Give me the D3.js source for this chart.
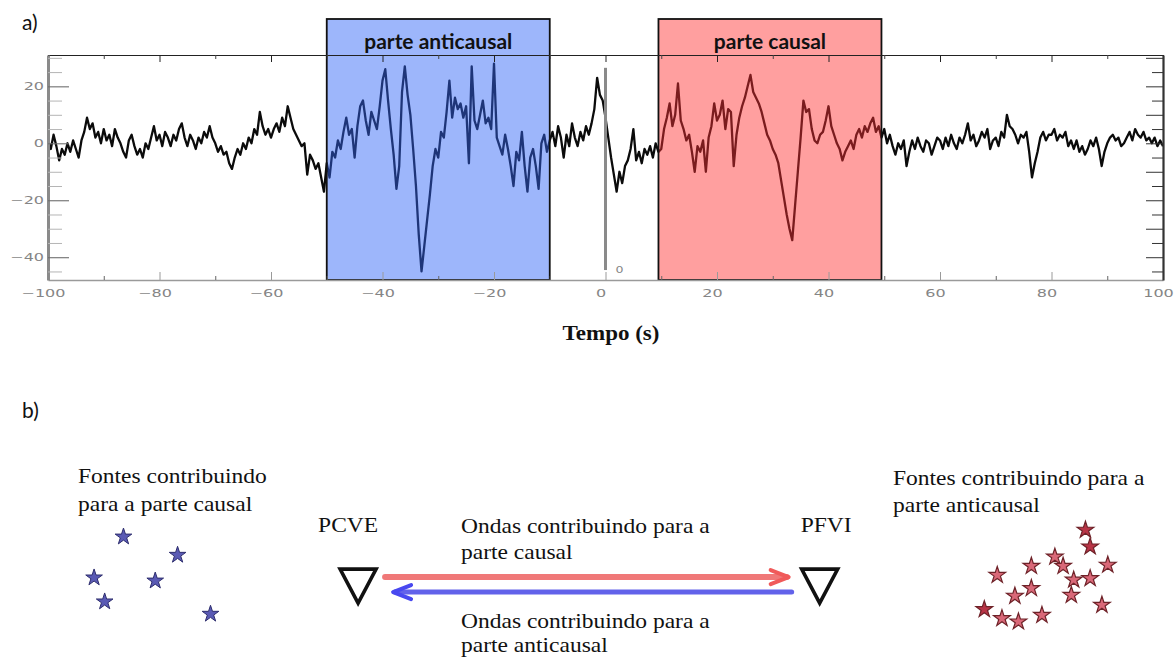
<!DOCTYPE html>
<html>
<head>
<meta charset="utf-8">
<script src="https://cdn.jsdelivr.net/npm/d3@7"></script>
<style>
  body { margin: 0; background: #fff; }
  svg { display: block; }
</style>
</head>
<body>
<svg id="fig" width="1176" height="657"></svg>
<script>
// ---------- panel a): cross-correlation trace (sampled every 0.5 s) ----------
const tStart = -100;
const tStep = 0.5;
const amplitude = [
  // -100 .. -90.5
  1,-2,3,-1,-6,-2,-4,0,-3,1,-2,-5,1,4,9,5,7,2,4,0,
  // -90 .. -80.5
  5,1,3,-1,5,2,0,-3,-5,1,3,-1,-4,-2,-5,0,-2,2,6,1,
  // -80 .. -70.5
  3,-1,4,2,-1,3,1,5,7,2,-1,3,1,-2,2,0,4,2,6,2,
  // -70 .. -60.5
  0,-3,-1,-4,-3,-7,-9,-5,-2,-4,0,-2,2,0,5,3,11,6,3,5,
  // -60 .. -50.5
  2,5,7,4,9,6,13,9,5,3,1,-1,0,-11,-4,-6,-9,-7,-12,-17,
  // -50 .. -40.5
  -7,-12,-3,-5,1,-2,4,9,3,5,-5,6,13,15,8,3,11,8,5,13,
  // -40 .. -30.5
  22,26,15,5,-4,-16,-8,18,27,17,10,-2,-15,-32,-45,-36,-27,-18,-8,-2,
  // -30 .. -20.5
  -5,4,2,11,22,9,16,12,14,9,13,-7,27,8,5,10,15,7,9,5,
  // -20 .. -10.5
  28,2,-1,-4,3,-2,-8,-15,-3,-6,4,-8,-17,-5,-2,-8,-16,0,3,-3,
  // -10 .. -0.5
  1,4,-1,6,2,-5,3,-1,7,2,-1,4,1,6,3,7,12,23,17,15,
  // 0 .. 9.5
  9,2,-5,-11,-17,-10,-14,-8,-6,-2,5,-6,-3,-7,-2,-4,-1,-5,0,-3,
  // 10 .. 19.5
  -2,5,9,14,6,10,21,8,5,1,3,-3,-10,-1,-3,1,-10,2,6,14,
  // 20 .. 29.5
  8,10,15,5,12,11,-8,3,9,13,16,20,24,18,16,14,11,7,3,1,
  // 30 .. 39.5
  -2,-4,-7,-13,-19,-25,-30,-34,-22,-10,2,15,11,12,5,1,0,3,4,8,
  // 40 .. 49.5
  13,6,3,0,-2,-6,-3,-1,1,-2,3,5,2,6,4,7,9,4,6,2,
  // 50 .. 59.5
  5,0,3,-1,-4,0,-2,1,-8,-3,1,-2,2,-1,-3,1,0,-4,-1,2,
  // 60 .. 69.5
  1,-2,2,-1,3,0,-2,2,0,3,7,1,3,-1,1,4,2,5,-2,1,
  // 70 .. 79.5
  2,-1,4,2,10,6,5,3,0,3,2,4,-3,-12,-7,-3,2,4,1,3,
  // 80 .. 89.5
  3,5,1,3,2,4,-1,1,-2,1,-3,-1,-4,-2,1,-1,2,-2,-8,-3,
  // 90 .. 100
  0,2,3,1,2,-1,0,2,4,1,5,3,2,4,1,2,0,2,-1,1,-1
];

const xDomain = [-100, 100];
const yDomain = [-48, 31];
const xTickValues = [-100, -80, -60, -40, -20, 0, 20, 40, 60, 80, 100];
const xMinorTickValues = [-90, -70, -50, -30, -10, 10, 30, 50, 70, 90];
const yTickValues = [-40, -20, 0, 20];
const yMinorTickValues = [-45, -35, -30, -25, -15, -10, -5, 5, 10, 15, 25, 30];
const yRightMajor = [-40, -30, -20, -10, 0, 10, 20, 30];
const yRightMinor = [-45, -35, -25, -15, -5, 5, 15, 25];

// time windows of the correlation
const windowLabels = ["parte anticausal", "parte causal"];
const windowStart = [-50, 9.5];
const windowEnd = [-10, 49.5];

// zero-lag marker
const zeroLagTime = 0;
const zeroLagSpan = [-44.5, 26.5];

// ---------- panel b): sources and stations (map units 0..100) ----------
const causalSourcesX = [10.5, 15.1, 8.0, 13.2, 8.9, 17.9];
const causalSourcesY = [44.0, 52.3, 62.6, 64.0, 73.5, 79.1];
const anticausalSourcesX = [92.3, 92.7, 89.7, 90.4, 94.2, 84.8, 87.7, 91.3, 92.7, 87.7, 86.3, 91.1, 93.7, 83.7, 85.2, 86.6, 88.6];
const anticausalSourcesY = [40.9, 48.5, 53.1, 57.3, 56.8, 61.4, 57.3, 63.6, 62.9, 67.4, 70.9, 70.5, 75.0, 77.0, 81.1, 82.6, 79.6];
const anticausalDark = [true, true, false, false, false, false, false, false, false, false, false, false, false, true, false, false, false];
const stationNames = ["PCVE", "PFVI"];
const stationX = [30.45, 69.7];
const stationY = [66.4, 66.4];

// ---------- styles ----------
const windowFill = ["#9db6fb", "#ff9f9f"];
const windowTrace = ["#1e3578", "#7a1c1e"];
const tickGrey = "#858585";

const svg = d3.select("#fig");
svg.append("rect").attr("width", 1176).attr("height", 657).attr("fill", "#fff");

const x = d3.scaleLinear().domain(xDomain).range([48, 1163]);
const y = d3.scaleLinear().domain(yDomain).range([280, 55]);
const plotTop = y(yDomain[1]);
const plotBottom = y(yDomain[0]);

const series = amplitude.map((v, i) => ({ t: tStart + i * tStep, v }));
const line = d3.line().x(d => x(d.t)).y(d => y(d.v));

function stretch(sel, sx) {
  sel.each(function () {
    const el = d3.select(this);
    const tx = +el.attr("x") || 0, ty = +el.attr("y") || 0;
    el.attr("x", 0).attr("y", 0)
      .attr("transform", `translate(${tx},${ty}) scale(${sx},1)`);
  });
}

// full trace in black
svg.append("path")
  .datum(series)
  .attr("d", line)
  .attr("fill", "none")
  .attr("stroke", "#0b0b0b")
  .attr("stroke-width", 2.3)
  .attr("stroke-linejoin", "round");

// shaded windows with the trace re-drawn in the window colour
windowLabels.forEach((label, i) => {
  const x0 = x(windowStart[i]), x1 = x(windowEnd[i]);
  const clipId = "win-clip-" + i;
  svg.append("clipPath").attr("id", clipId)
    .append("rect").attr("x", x0).attr("y", 0).attr("width", x1 - x0).attr("height", plotBottom);
  svg.append("rect")
    .attr("x", x0).attr("y", 19).attr("width", x1 - x0).attr("height", plotBottom - 19)
    .attr("fill", windowFill[i]);
  svg.append("path")
    .datum(series)
    .attr("d", line)
    .attr("clip-path", `url(#${clipId})`)
    .attr("fill", "none")
    .attr("stroke", windowTrace[i])
    .attr("stroke-width", 2.3)
    .attr("stroke-linejoin", "round");
  svg.append("rect")
    .attr("x", x0).attr("y", 19).attr("width", x1 - x0).attr("height", plotBottom - 19)
    .attr("fill", "none").attr("stroke", "#111").attr("stroke-width", 1.8);
  svg.append("text")
    .attr("x", (x0 + x1) / 2).attr("y", 49)
    .attr("text-anchor", "middle")
    .attr("font-family", "Lato, 'Open Sans', sans-serif")
    .attr("font-weight", 700)
    .attr("font-size", 21)
    .attr("fill", "#111")
    .text(label);
});

// zero-lag vertical marker
svg.append("line")
  .attr("x1", x(zeroLagTime)).attr("x2", x(zeroLagTime))
  .attr("y1", y(zeroLagSpan[1])).attr("y2", y(zeroLagSpan[0]))
  .attr("stroke", "#8a8a8a").attr("stroke-width", 3);
svg.append("text")
  .attr("x", x(zeroLagTime) + 14).attr("y", y(zeroLagSpan[0]) + 3)
  .attr("text-anchor", "middle")
  .attr("font-family", "DejaVu Sans, sans-serif")
  .attr("font-size", 9).attr("fill", tickGrey)
  .text("0")
  .call(stretch, 1.4);

// ---------- axes ----------
function styleAxis(g, color, width) {
  g.selectAll(".domain").attr("stroke", color).attr("stroke-width", width);
  g.selectAll(".tick line").attr("stroke", color);
}

// top frame
const topAxis = svg.append("g").attr("transform", `translate(0,${plotTop})`)
  .call(d3.axisTop(x).tickValues(xTickValues).tickSize(-7).tickSizeOuter(0).tickFormat(""));
styleAxis(topAxis, "#222", 1.1);
svg.append("g").attr("transform", `translate(0,${plotTop})`)
  .call(d3.axisTop(x).tickValues(xMinorTickValues).tickSize(-4).tickSizeOuter(0).tickFormat(""))
  .call(g => { g.select(".domain").remove(); g.selectAll(".tick line").attr("stroke", "#444"); });

// bottom axis
const bottomAxis = svg.append("g").attr("transform", `translate(0,${plotBottom})`)
  .call(d3.axisBottom(x).tickValues(xTickValues).tickSize(-8).tickSizeOuter(0).tickPadding(6));
styleAxis(bottomAxis, "#9a9a9a", 1.6);
bottomAxis.selectAll("text")
  .attr("font-family", "DejaVu Sans, sans-serif")
  .attr("font-size", 10).attr("fill", tickGrey)
  .attr("x", -5).attr("y", 10)
  .call(stretch, 1.6);
svg.append("g").attr("transform", `translate(0,${plotBottom})`)
  .call(d3.axisBottom(x).tickValues(xMinorTickValues).tickSize(-4).tickSizeOuter(0).tickFormat(""))
  .call(g => { g.select(".domain").remove(); g.selectAll(".tick line").attr("stroke", "#666"); });

// left axis
const leftAxis = svg.append("g").attr("transform", `translate(${x(xDomain[0])},0)`)
  .call(d3.axisLeft(y).tickValues(yTickValues).tickSize(-21).tickSizeOuter(0).tickPadding(4));
styleAxis(leftAxis, "#8a8a8a", 3);
leftAxis.selectAll(".tick line").attr("stroke", "#6e6e6e").attr("stroke-width", 1.1);
leftAxis.selectAll("text")
  .attr("font-family", "DejaVu Sans, sans-serif")
  .attr("font-size", 10).attr("fill", tickGrey)
  .attr("x", -4)
  .call(stretch, 1.6);
svg.append("g").attr("transform", `translate(${x(xDomain[0])},0)`)
  .call(d3.axisLeft(y).tickValues(yMinorTickValues).tickSize(-14).tickSizeOuter(0).tickFormat(""))
  .call(g => { g.select(".domain").remove(); g.selectAll(".tick line").attr("stroke", "#b5b5b5"); });

// right axis
const rightAxis = svg.append("g").attr("transform", `translate(${x(xDomain[1])},0)`)
  .call(d3.axisRight(y).tickValues(yRightMajor).tickSize(-17).tickSizeOuter(0).tickFormat(""));
styleAxis(rightAxis, "#333", 2.2);
svg.append("g").attr("transform", `translate(${x(xDomain[1])},0)`)
  .call(d3.axisRight(y).tickValues(yRightMinor).tickSize(-11).tickSizeOuter(0).tickFormat(""))
  .call(g => { g.select(".domain").remove(); g.selectAll(".tick line").attr("stroke", "#333"); });

// panel letter and x title
svg.append("text").attr("x", 22).attr("y", 30)
  .attr("font-family", "Lato, 'Open Sans', sans-serif").attr("font-size", 21).attr("fill", "#111")
  .text("a)");
svg.append("text").attr("x", 611).attr("y", 340)
  .attr("text-anchor", "middle")
  .attr("font-family", "'Liberation Serif', 'Times New Roman', serif")
  .attr("font-weight", 700).attr("font-size", 20).attr("fill", "#111")
  .text("Tempo (s)")
  .call(stretch, 1.15);

// ---------- panel b) ----------
svg.append("text").attr("x", 22).attr("y", 418)
  .attr("font-family", "Lato, 'Open Sans', sans-serif").attr("font-size", 21).attr("fill", "#111")
  .text("b)");

const mapX = d3.scaleLinear().domain([0, 100]).range([0, 1176]);
const mapY = d3.scaleLinear().domain([0, 100]).range([440, 660]);

const serif = "'Liberation Serif', 'Times New Roman', serif";
function serifText(tx, ty, str) {
  svg.append("text").attr("x", tx).attr("y", ty)
    .attr("font-family", serif).attr("font-size", 21).attr("fill", "#111")
    .text(str)
    .call(stretch, 1.12);
}

serifText(78, 483, "Fontes contribuindo");
serifText(78, 511, "para a parte causal");
serifText(893, 485, "Fontes contribuindo para a");
serifText(893, 512, "parte anticausal");
serifText(461, 533, "Ondas contribuindo para a");
serifText(461, 559, "parte causal");
serifText(461, 628, "Ondas contribuindo para a");
serifText(461, 652, "parte anticausal");

const star = d3.symbol().type(d3.symbolStar).size(86);

causalSourcesX.forEach((sx, i) => {
  svg.append("path")
    .attr("d", star())
    .attr("transform", `translate(${mapX(sx)},${mapY(causalSourcesY[i])})`)
    .attr("fill", "#5a5ab4").attr("stroke", "#2e2e6e").attr("stroke-width", 1);
});
anticausalSourcesX.forEach((sx, i) => {
  svg.append("path")
    .attr("d", star())
    .attr("transform", `translate(${mapX(sx)},${mapY(anticausalSourcesY[i])})`)
    .attr("fill", anticausalDark[i] ? "#b83446" : "#d96878")
    .attr("stroke", "#6e2228").attr("stroke-width", 1.2);
});

// stations
const stationPx = stationX.map((sx, i) => [mapX(sx), mapY(stationY[i])]);
stationPx.forEach(([cx, cy], i) => {
  svg.append("path")
    .attr("d", `M${cx - 18},${cy - 17}L${cx + 18},${cy - 17}L${cx},${cy + 17}Z`)
    .attr("fill", "none").attr("stroke", "#111").attr("stroke-width", 3.6)
    .attr("stroke-linejoin", "miter");
  serifText(cx - 40 + (i === 1 ? 21 : 0), 532, stationNames[i]);
});

// wave paths between stations
const [ax, ay] = stationPx[0];
const [bx] = stationPx[1];
const redY = ay - 9, blueY = ay + 6;
const redStart = ax + 27, redTip = bx - 31;
svg.append("line").attr("x1", redStart).attr("x2", redTip - 2).attr("y1", redY).attr("y2", redY)
  .attr("stroke", "#f07878").attr("stroke-width", 6).attr("stroke-linecap", "round");
svg.append("path")
  .attr("d", `M${redTip - 18},${redY - 7}L${redTip},${redY}L${redTip - 18},${redY + 7}`)
  .attr("fill", "none").attr("stroke", "#f05a5a").attr("stroke-width", 4)
  .attr("stroke-linecap", "round").attr("stroke-linejoin", "round");

const blueTip = ax + 35, blueEnd = bx - 28;
svg.append("line").attr("x1", blueTip + 2).attr("x2", blueEnd).attr("y1", blueY).attr("y2", blueY)
  .attr("stroke", "#6262ea").attr("stroke-width", 5).attr("stroke-linecap", "round");
svg.append("path")
  .attr("d", `M${blueTip + 18},${blueY - 7}L${blueTip},${blueY}L${blueTip + 18},${blueY + 7}`)
  .attr("fill", "none").attr("stroke", "#4848f0").attr("stroke-width", 4)
  .attr("stroke-linecap", "round").attr("stroke-linejoin", "round");
</script>
</body>
</html>
